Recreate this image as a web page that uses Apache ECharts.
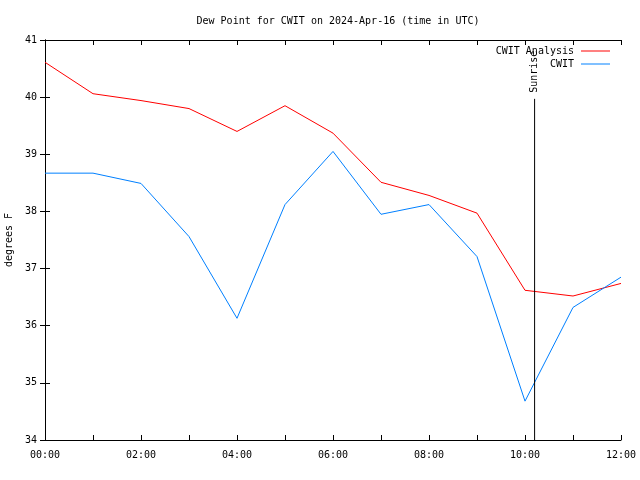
<!DOCTYPE html>
<html><head><meta charset="utf-8">
<script src="https://cdn.jsdelivr.net/npm/echarts@6/dist/echarts.min.js"></script>
<style>html,body{margin:0;padding:0;background:#fff}#c{width:640px;height:480px}</style>
</head><body><div id="c"></div>
<script>
const hours = [0,1,2,3,4,5,6,7,8,9,10,11,12];
const analysis = [40.61,40.06,39.94,39.80,39.40,39.85,39.37,38.51,38.28,37.97,36.62,36.52,36.74];
const observed = [38.67,38.67,38.49,37.56,36.13,38.12,39.05,37.95,38.12,37.21,34.68,36.32,36.85];
const sunriseHour = 10.2;
const sunriseTop = 39.97;
const yMin = 34, yMax = 41;
const titleText = 'Dew Point for CWIT on 2024-Apr-16 (time in UTC)';

const FONT = 'DejaVu Sans Mono';
const chart = echarts.init(document.getElementById('c'), null, {renderer:'canvas'});
function pad(v){return (v<10?'0':'')+v+':00';}
const tickCommon = {show:true, inside:true, length:5, lineStyle:{color:'#000'}};
const option = {
  animation:false,
  backgroundColor:'#fff',
  title:{text:titleText, left:333, textAlign:'center', top:11, textStyle:{fontFamily:FONT, fontSize:10, fontWeight:'normal', color:'#000'}},
  grid:{left:45, right:19, top:40, bottom:40, show:false, containLabel:false, outerBoundsMode:'none'},
  legend:[
    {data:['CWIT Analysis'], right:25, top:41, icon:'rect', itemWidth:29, itemHeight:1, itemGap:0, align:'right',
     textStyle:{fontFamily:FONT, fontSize:10, color:'#000', padding:[0,2,0,0]}},
    {data:['CWIT'], right:25, top:54, icon:'rect', itemWidth:29, itemHeight:1, itemGap:0, align:'right',
     textStyle:{fontFamily:FONT, fontSize:10, color:'#000', padding:[0,2,0,0]}}
  ],
  xAxis:[
    {type:'value', min:0, max:12, interval:1, position:'bottom',
     axisLine:{show:true, lineStyle:{color:'#000', width:1}}, axisTick:tickCommon, splitLine:{show:false},
     axisLabel:{fontFamily:FONT, fontSize:10, color:'#000', margin:10, formatter:v=> v%2===0 ? pad(v) : ''}},
    {type:'value', min:0, max:12, interval:1, position:'top',
     axisLine:{show:true, lineStyle:{color:'#000', width:1}}, axisTick:tickCommon, splitLine:{show:false}, axisLabel:{show:false}}
  ],
  yAxis:[
    {type:'value', min:yMin, max:yMax, interval:1, position:'left', name:'degrees F', nameLocation:'middle', nameGap:28, nameRotate:90,
     nameTextStyle:{fontFamily:FONT, fontSize:10, color:'#000'},
     axisLine:{show:true, lineStyle:{color:'#000', width:1}}, axisTick:tickCommon, splitLine:{show:false},
     axisLabel:{fontFamily:FONT, fontSize:10, color:'#000', margin:8}},
    {type:'value', min:yMin, max:yMax, interval:1, position:'right',
     axisLine:{show:true, lineStyle:{color:'#000', width:1}}, axisTick:tickCommon, splitLine:{show:false}, axisLabel:{show:false}}
  ],
  series:[
    {name:'CWIT Analysis', type:'line', data:hours.map((h,i)=>[h,analysis[i]]), showSymbol:false, symbol:'none',
     lineStyle:{color:'#ff0000', width:1}, itemStyle:{color:'#ff0000'}},
    {name:'CWIT', type:'line', data:hours.map((h,i)=>[h,observed[i]]), showSymbol:false, symbol:'none',
     lineStyle:{color:'#0080ff', width:1}, itemStyle:{color:'#0080ff'}},
    {name:'Sunrise', type:'line', data:[[sunriseHour,yMin],[sunriseHour,sunriseTop]], showSymbol:false, symbol:'none',
     lineStyle:{color:'#000', width:1}, itemStyle:{color:'#000'}}
  ]
};
chart.setOption(option);
const p = chart.convertToPixel({xAxisIndex:0, yAxisIndex:0}, [sunriseHour, sunriseTop]);
chart.setOption({graphic:[{type:'text', x:p[0], y:p[1]-6, rotation:Math.PI/2,
  style:{text:'Sunrise', fontFamily:FONT, fontSize:10, fill:'#000', align:'left', verticalAlign:'middle'}}]});
</script></body></html>
